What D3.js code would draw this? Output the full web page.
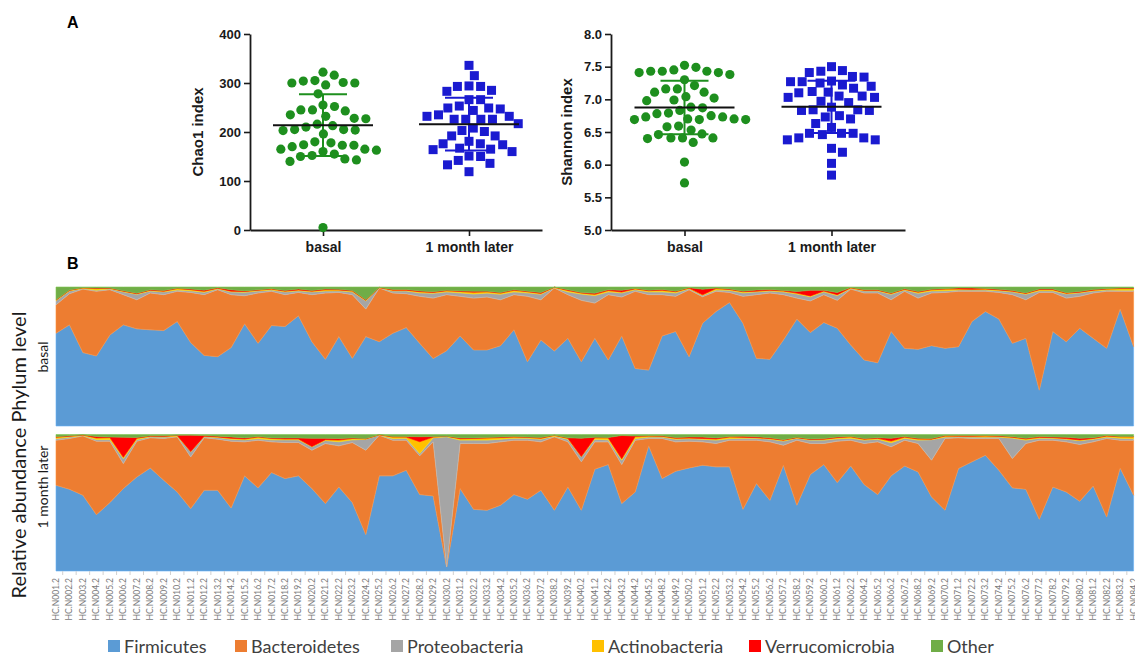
<!DOCTYPE html>
<html><head><meta charset="utf-8">
<script src="https://cdn.jsdelivr.net/npm/d3@7"></script>
<style>body{margin:0;background:#fff}svg{display:block}</style>
</head><body><svg id="c" width="1135" height="657"></svg>
<script>
// ---------- Panel A data ----------
const groups = ["basal", "1 month later"];
const chaoBasal = [322,316,305,304,301,300,300,296,278,255,252,245,243,245,235,232,227,228,216,213,210,205,203,204,205,196,180,178,174,173,173,170,165,165,163,160,155,152,150,145,143,140,5];
const chaoLater = [336,315,294,293,293,285,283,266,266,253,249,247,249,244,235,232,232,226,226,226,226,217,203,208,201,192,192,181,176,176,174,167,164,165,160,151,150,136,133,142,119];
const shannonBasal = [7.49,7.52,7.41,7.43,7.43,7.41,7.43,7.45,7.38,7.30,7.21,7.16,7.16,7.11,7.11,7.04,7.02,6.99,6.98,6.87,6.88,6.83,6.78,6.79,6.73,6.70,6.69,6.75,6.69,6.69,6.70,6.73,6.59,6.58,6.53,6.47,6.46,6.41,6.41,6.40,6.41,6.34,6.04,5.72];
const shannonLater = [7.50,7.43,7.44,7.41,7.35,7.34,7.22,7.25,7.27,7.28,7.27,7.17,7.20,7.12,7.11,7.10,7.05,7.03,7.03,7.05,6.97,6.95,6.84,6.83,6.88,6.83,6.84,6.75,6.73,6.70,6.63,6.57,6.48,6.48,6.46,6.48,6.41,6.38,6.38,6.41,6.25,6.19,6.02,5.84];
const chaoMean = [214, 216];
const chaoSD = [63, 54];
const shannonMean = [6.875, 6.885];
const shannonSD = [0.41, 0.40];
const chaoTicks = [0, 100, 200, 300, 400];
const shannonTicks = [5.0, 5.5, 6.0, 6.5, 7.0, 7.5, 8.0];

// ---------- Panel B data ----------
const phyla = ["Firmicutes","Bacteroidetes","Proteobacteria","Actinobacteria","Verrucomicrobia","Other"];
const phylaColors = ["#5b9bd5","#ed7d31","#a5a5a5","#ffc000","#ff0000","#70ad47"];
const sampleIds = ["HC.N001.2","HC.N002.2","HC.N003.2","HC.N004.2","HC.N005.2","HC.N006.2","HC.N007.2","HC.N008.2","HC.N009.2","HC.N010.2",
"HC.N011.2","HC.N012.2","HC.N013.2","HC.N014.2","HC.N015.2","HC.N016.2","HC.N017.2","HC.N018.2","HC.N019.2","HC.N020.2",
"HC.N021.2","HC.N022.2","HC.N023.2","HC.N024.2","HC.N025.2","HC.N026.2","HC.N027.2","HC.N028.2","HC.N029.2","HC.N030.2",
"HC.N031.2","HC.N032.2","HC.N033.2","HC.N034.2","HC.N035.2","HC.N036.2","HC.N037.2","HC.N038.2","HC.N039.2","HC.N040.2",
"HC.N041.2","HC.N042.2","HC.N043.2","HC.N044.2","HC.N045.2","HC.N048.2","HC.N049.2","HC.N050.2","HC.N051.2","HC.N052.2",
"HC.N053.2","HC.N054.2","HC.N055.2","HC.N056.2","HC.N057.2","HC.N058.2","HC.N059.2","HC.N060.2","HC.N061.2","HC.N062.2",
"HC.N064.2","HC.N065.2","HC.N066.2","HC.N067.2","HC.N068.2","HC.N069.2","HC.N070.2","HC.N071.2","HC.N072.2","HC.N073.2",
"HC.N074.2","HC.N075.2","HC.N076.2","HC.N077.2","HC.N078.2","HC.N079.2","HC.N080.2","HC.N081.2","HC.N082.2","HC.N083.2",
"HC.N084.2"];

const basalFirmicutes = [.667,.728,.528,.504,.655,.728,.699,.692,.687,.752,
 .600,.508,.499,.564,.735,.595,.723,.716,.793,.607,
 .480,.643,.487,.643,.607,.667,.708,.595,.485,.542,
 .648,.547,.547,.578,.692,.463,.619,.540,.631,.463,
 .631,.475,.648,.414,.402,.648,.680,.499,.740,.824,
 .889,.740,.487,.480,.619,.769,.672,.745,.704,.583,
 .475,.455,.680,.559,.552,.578,.559,.571,.752,.824,
 .769,.595,.631,.258,.680,.607,.704,.631,.559,.841,
 .571];
const basalBacteroidetes = [.205,.224,.457,.465,.326,.217,.209,.265,.258,.217,
 .361,.437,.482,.381,.202,.362,.246,.229,.168,.338,
 .477,.318,.458,.198,.386,.290,.244,.338,.435,.403,
 .285,.373,.381,.330,.253,.470,.289,.453,.314,.441,
 .253,.470,.280,.555,.543,.297,.253,.481,.190,.145,
 .072,.193,.458,.477,.326,.151,.228,.200,.200,.402,
 .482,.502,.228,.410,.368,.379,.402,.398,.217,.145,
 .192,.350,.277,.703,.281,.313,.229,.326,.410,.128,
 .398];
const basalProteobacteria = [.030,.020,.005,.008,.006,.020,.040,.015,.020,.010,
 .012,.018,.006,.020,.025,.015,.010,.020,.012,.020,
 .015,.012,.020,.060,.002,.015,.020,.025,.035,.020,
 .025,.030,.028,.040,.020,.025,.040,.002,.020,.045,
 .055,.020,.030,.012,.020,.020,.025,.008,.010,.010,
 .015,.025,.020,.015,.020,.030,.030,.020,.035,.005,
 .015,.015,.040,.010,.035,.015,.012,.010,.010,.010,
 .012,.020,.040,.012,.012,.030,.025,.015,.010,.008,
 .008];
const basalActinobacteria = [.004,.004,.004,.012,.004,.005,.004,.005,.004,.010,
 .008,.006,.004,.005,.006,.005,.006,.005,.006,.005,
 .008,.006,.006,.004,.001,.005,.005,.008,.006,.008,
 .010,.012,.010,.008,.012,.008,.006,.003,.010,.008,
 .008,.010,.006,.006,.008,.012,.008,.004,.004,.010,
 .006,.008,.005,.005,.006,.006,.006,.006,.006,.004,
 .004,.004,.006,.004,.008,.008,.012,.006,.004,.006,
 .006,.005,.006,.008,.008,.005,.005,.005,.006,.012,
 .012];
const basalVerrucomicrobia = [.002,.002,.001,.003,.002,.003,.003,.003,.006,.002,
 .004,.008,.003,.010,.004,.003,.003,.005,.006,.005,
 .005,.004,.004,.003,.001,.005,.005,.006,.004,.004,
 .004,.008,.004,.004,.003,.004,.006,.001,.005,.003,
 .008,.005,.012,.003,.004,.005,.004,.003,.040,.003,
 .004,.004,.008,.005,.004,.012,.040,.005,.015,.002,
 .004,.004,.003,.004,.004,.004,.003,.008,.010,.005,
 .004,.005,.003,.004,.004,.004,.004,.005,.003,.003,
 .003];
const basalOther = [.092,.022,.005,.008,.007,.027,.045,.020,.025,.009,
 .015,.023,.006,.020,.028,.020,.012,.025,.015,.025,
 .015,.017,.025,.092,.003,.018,.018,.028,.035,.023,
 .028,.030,.030,.040,.020,.030,.040,.001,.020,.040,
 .045,.020,.024,.010,.023,.018,.030,.005,.016,.008,
 .014,.030,.022,.018,.025,.032,.024,.024,.040,.004,
 .020,.020,.043,.013,.033,.016,.012,.007,.007,.010,
 .017,.025,.043,.015,.015,.041,.033,.018,.012,.008,
 .008];

const laterFirmicutes = [.628,.599,.555,.413,.501,.604,.689,.755,.665,.579,
 .457,.592,.592,.462,.697,.609,.721,.677,.697,.604,
 .494,.616,.501,.267,.697,.697,.738,.560,.550,.030,
 .604,.452,.445,.482,.560,.526,.592,.445,.616,.445,
 .746,.780,.494,.579,.917,.677,.731,.755,.775,.763,
 .763,.452,.641,.518,.775,.482,.707,.780,.648,.770,
 .633,.560,.697,.770,.726,.543,.445,.751,.800,.848,
 .738,.609,.599,.379,.616,.579,.511,.623,.396,.755,
 .555];
const laterBacteroidetes = [.330,.372,.435,.538,.450,.183,.262,.221,.306,.404,
 .379,.384,.374,.489,.249,.349,.225,.264,.244,.281,
 .440,.301,.440,.618,.298,.261,.220,.284,.396,.000,
 .330,.482,.489,.464,.398,.432,.354,.538,.330,.355,
 .200,.166,.286,.379,.054,.294,.215,.196,.171,.171,
 .195,.506,.317,.428,.147,.476,.227,.154,.303,.188,
 .301,.386,.213,.188,.208,.269,.526,.225,.171,.123,
 .233,.215,.335,.579,.342,.367,.416,.323,.575,.203,
 .403];
const laterProteobacteria = [.012,.010,.003,.012,.012,.037,.012,.008,.010,.005,
 .037,.008,.012,.015,.015,.012,.015,.020,.020,.025,
 .022,.030,.020,.080,.002,.012,.015,.017,.030,.953,
 .025,.025,.025,.020,.015,.015,.020,.005,.020,.037,
 .020,.015,.032,.012,.010,.010,.020,.018,.020,.025,
 .012,.015,.015,.020,.030,.015,.025,.025,.018,.015,
 .025,.020,.030,.015,.025,.150,.010,.008,.010,.010,
 .010,.150,.025,.015,.015,.020,.028,.020,.010,.015,
 .012];
const laterActinobacteria = [.010,.006,.003,.012,.015,.009,.010,.004,.005,.005,
 .002,.004,.004,.006,.006,.012,.010,.006,.006,.002,
 .006,.012,.010,.003,.001,.012,.008,.086,.005,.005,
 .010,.012,.015,.012,.008,.006,.006,.006,.006,.002,
 .010,.014,.010,.016,.008,.006,.006,.005,.005,.008,
 .012,.006,.004,.004,.006,.004,.004,.006,.008,.010,
 .006,.006,.012,.008,.008,.004,.008,.004,.006,.008,
 .006,.006,.008,.006,.004,.004,.005,.005,.008,.010,
 .012];
const laterVerrucomicrobia = [.004,.003,.001,.010,.004,.147,.005,.002,.004,.002,
 .120,.004,.006,.010,.008,.003,.004,.008,.008,.060,
 .010,.011,.004,.002,.001,.003,.004,.037,.004,.000,
 .006,.004,.004,.004,.004,.003,.006,.001,.004,.134,
 .004,.003,.171,.003,.002,.003,.006,.008,.010,.008,
 .003,.008,.006,.006,.004,.003,.004,.005,.005,.003,
 .005,.005,.020,.004,.005,.004,.003,.004,.005,.004,
 .004,.004,.005,.006,.005,.010,.012,.005,.004,.003,
 .003];
const laterOther = [.016,.010,.003,.015,.018,.020,.022,.010,.010,.005,
 .005,.008,.012,.018,.025,.015,.025,.025,.025,.028,
 .028,.030,.025,.030,.001,.015,.015,.016,.015,.012,
 .025,.025,.022,.018,.015,.018,.022,.005,.024,.027,
 .020,.022,.007,.011,.009,.010,.022,.018,.019,.025,
 .015,.013,.017,.024,.038,.020,.033,.030,.018,.014,
 .030,.023,.028,.015,.028,.030,.008,.008,.008,.007,
 .009,.016,.028,.015,.018,.020,.028,.024,.007,.014,
 .015];

// ---------- drawing ----------
const svg = d3.select("#c");
const AR = "'Liberation Sans', Arial, sans-serif";
const CAL = "Lato, 'Open Sans', sans-serif";
const groupColors = ["#1e8f1e", "#1a1ad0"];

svg.append("text").attr("x", 67).attr("y", 28).text("A")
  .attr("font-family", AR).attr("font-weight", "bold").attr("font-size", 16);
svg.append("text").attr("x", 67).attr("y", 269).text("B")
  .attr("font-family", AR).attr("font-weight", "bold").attr("font-size", 16);

function swarm(values, y, r) {
  const pts = values.map(v => ({ v, y: y(v) })).sort((a, b) => a.y - b.y);
  const placed = [];
  for (const d of pts) {
    const cands = [0];
    for (const p of placed) {
      const dy = Math.abs(p.y - d.y);
      if (dy < 2 * r) {
        const dx = Math.sqrt(4 * r * r - dy * dy) + 0.01;
        cands.push(p.x + dx, p.x - dx);
      }
    }
    cands.sort((a, b) => Math.abs(a) - Math.abs(b));
    for (const c of cands) {
      if (placed.every(p => (p.x - c) ** 2 + (p.y - d.y) ** 2 >= 4 * r * r - 0.05)) { d.x = c; break; }
    }
    placed.push(d);
  }
  return placed;
}

function dotPanel(o) {
  const y = d3.scaleLinear().domain(o.domain).range([230, 34]);
  const x = d3.scalePoint().domain(groups).range([o.x0, o.x1]).padding(0.5);
  const g = svg.append("g");
  const ya = g.append("g").attr("transform", `translate(${o.x0},0)`)
    .call(d3.axisLeft(y).tickValues(o.ticks).tickFormat(o.fmt).tickSize(6).tickSizeOuter(0));
  const xa = g.append("g").attr("transform", `translate(0,230)`)
    .call(d3.axisBottom(x).tickSize(6).tickSizeOuter(0).tickPadding(6));
  [ya, xa].forEach(a => {
    a.select(".domain").attr("stroke", "#1a1a1a").attr("stroke-width", 1.8);
    a.selectAll(".tick line").attr("stroke", "#1a1a1a").attr("stroke-width", 1.6);
    a.selectAll("text").attr("font-family", AR).attr("font-weight", "bold").attr("fill", "#1a1a1a");
  });
  ya.selectAll("text").attr("font-size", 13);
  xa.selectAll("text").attr("font-size", 14);
  g.append("text").attr("transform", `translate(${o.titleX},132) rotate(-90)`)
    .attr("text-anchor", "middle").attr("font-family", AR).attr("font-weight", "bold")
    .attr("font-size", 15).attr("fill", "#1a1a1a").text(o.title);

  o.data.forEach((vals, gi) => {
    const pts = swarm(vals, y, 5.8);
    const cx = x(groups[gi]);
    if (gi === 0) {
      g.append("g").selectAll("circle").data(pts).join("circle")
        .attr("cx", d => cx + d.x).attr("cy", d => d.y).attr("r", 4.6).attr("fill", groupColors[0]);
    } else {
      g.append("g").selectAll("rect").data(pts).join("rect")
        .attr("x", d => cx + d.x - 4.5).attr("y", d => d.y - 4.5).attr("width", 9).attr("height", 9)
        .attr("fill", groupColors[1]);
    }
    const m = o.means[gi], s = o.sds[gi];
    const eb = g.append("g").attr("stroke", groupColors[gi]).attr("stroke-width", 2);
    eb.append("line").attr("x1", cx).attr("x2", cx).attr("y1", y(m - s)).attr("y2", y(m + s));
    eb.append("line").attr("x1", cx - 24).attr("x2", cx + 24).attr("y1", y(m + s)).attr("y2", y(m + s));
    eb.append("line").attr("x1", cx - 24).attr("x2", cx + 24).attr("y1", y(m - s)).attr("y2", y(m - s));
    g.append("line").attr("x1", cx - 50).attr("x2", cx + 50).attr("y1", y(m)).attr("y2", y(m))
      .attr("stroke", "#111").attr("stroke-width", 2);
  });
}

dotPanel({ x0: 250, x1: 542, domain: [0, 400], ticks: chaoTicks, fmt: d3.format("d"),
  title: "Chao1 index", titleX: 203, data: [chaoBasal, chaoLater], means: chaoMean, sds: chaoSD });
dotPanel({ x0: 611, x1: 905, domain: [5, 8], ticks: shannonTicks, fmt: d3.format(".1f"),
  title: "Shannon index", titleX: 572, data: [shannonBasal, shannonLater], means: shannonMean, sds: shannonSD });

// ---------- Panel B ----------
const xB = d3.scalePoint().domain(sampleIds).range([56, 56 + 80 * 13.47]);
function buildRows(series) {
  return sampleIds.map((s, i) => {
    const r = { sample: s };
    phyla.forEach((p, k) => r[p] = series[k][i]);
    return r;
  });
}
const stack = d3.stack().keys(phyla).offset(d3.stackOffsetExpand);
function areaPanel(rows, top, bottom) {
  const y = d3.scaleLinear().domain([0, 1]).range([bottom, top]);
  const area = d3.area().x(d => xB(d.data.sample)).y0(d => y(d[0])).y1(d => y(d[1]));
  const layers = stack(rows);
  svg.append("g").selectAll("path").data(layers).join("path")
    .attr("d", area).attr("fill", (d, i) => phylaColors[i])
    .attr("stroke", (d, i) => d3.color(phylaColors[i]).brighter(0.4)).attr("stroke-width", 0.6);
}
areaPanel(buildRows([basalFirmicutes, basalBacteroidetes, basalProteobacteria, basalActinobacteria, basalVerrucomicrobia, basalOther]), 287, 426);
areaPanel(buildRows([laterFirmicutes, laterBacteroidetes, laterProteobacteria, laterActinobacteria, laterVerrucomicrobia, laterOther]), 434.5, 571);

// x axis ticks & labels
const xt = svg.append("g");
xt.selectAll("line").data(sampleIds).join("line")
  .attr("x1", d => xB(d) + 6.7).attr("x2", d => xB(d) + 6.7).attr("y1", 571).attr("y2", 575)
  .attr("stroke", "#d0d0d0").attr("stroke-width", 1);
xt.selectAll("text").data(sampleIds).join("text")
  .attr("transform", d => `translate(${xB(d)},578) rotate(-90)`)
  .attr("text-anchor", "end").attr("dominant-baseline", "central")
  .attr("font-family", CAL).attr("font-size", 8.5).attr("fill", "#7a7a7a").text(d => d);

// y labels
svg.append("text").attr("transform", "translate(18,455) rotate(-90)").attr("text-anchor", "middle")
  .attr("dominant-baseline", "central").attr("font-family", CAL).attr("font-size", 20).attr("fill", "#1a1a1a")
  .text("Relative abundance Phylum level");
svg.append("text").attr("transform", "translate(42,357) rotate(-90)").attr("text-anchor", "middle")
  .attr("dominant-baseline", "central").attr("font-family", CAL).attr("font-size", 14).attr("fill", "#1a1a1a")
  .text("basal");
svg.append("text").attr("transform", "translate(42,487) rotate(-90)").attr("text-anchor", "middle")
  .attr("dominant-baseline", "central").attr("font-family", CAL).attr("font-size", 14).attr("fill", "#1a1a1a")
  .text("1 month later");

// legend
const legX = [108, 235, 391, 592, 749, 931];
const leg = svg.append("g").selectAll("g").data(phyla).join("g")
  .attr("transform", (d, i) => `translate(${legX[i]},646)`);
leg.append("rect").attr("x", 0).attr("y", -6).attr("width", 12).attr("height", 12)
  .attr("fill", (d, i) => phylaColors[i]);
leg.append("text").attr("x", 16).attr("y", 0).attr("dominant-baseline", "central")
  .attr("font-family", CAL).attr("font-size", 18).attr("fill", "#404040").text(d => d);
</script></body></html>
